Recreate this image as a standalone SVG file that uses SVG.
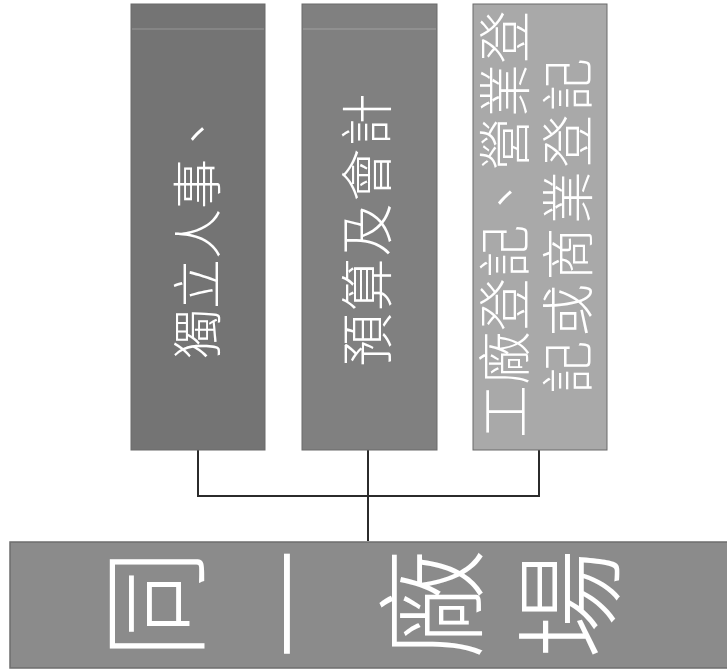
<svg xmlns="http://www.w3.org/2000/svg" width="727" height="671" viewBox="0 0 727 671">
  <style>
    .box { stroke: #6a6a6a; stroke-width: 1; }
    .lbl { fill: #ffffff; font-family: "Noto Sans CJK TC", "Noto Sans CJK SC", sans-serif; font-weight: 300; }
    .conn { fill: none; stroke: #2b2b2b; stroke-width: 2; }
    .scan { stroke: #ffffff; stroke-opacity: 0.25; stroke-width: 1; }
  </style>
  <rect width="727" height="671" fill="#ffffff"/>
  <g id="connectors">
    <path class="conn" d="M198 449 V496 H539 V449"/>
    <path class="conn" d="M368 449 V541"/>
  </g>
  <g id="node-personnel">
    <rect class="box" x="131" y="4" width="134" height="446" fill="#747474"/>
    <line class="scan" x1="132" y1="29" x2="264" y2="29"/>
    <text class="lbl" font-size="50" text-anchor="middle" transform="translate(197 234) rotate(-90)" x="0" y="19">獨立人事、</text>
  </g>
  <g id="node-budget">
    <rect class="box" x="302" y="4" width="135" height="446" fill="#808080"/>
    <line class="scan" x1="303" y1="29" x2="436" y2="29"/>
    <text class="lbl" font-size="53" letter-spacing="2" text-anchor="middle" transform="translate(367 229) rotate(-90)" x="0" y="20">預算及會計</text>
  </g>
  <g id="node-registration">
    <rect class="box" x="473" y="4" width="134" height="446" fill="#a9a9a9" stroke="#bdbdbd"/>
    <text class="lbl" font-size="53" letter-spacing="0.5" text-anchor="middle" transform="translate(505 224) rotate(-90)" x="0" y="20">工廠登記、營業登</text>
    <text class="lbl" font-size="53" letter-spacing="3.5" text-anchor="middle" transform="translate(568 224) rotate(-90)" x="0" y="20">記或商業登記</text>
  </g>
  <g id="node-same-site">
    <rect x="10" y="542" width="720" height="126" fill="#8b8b8b" stroke="#6e6e6e" stroke-width="1.5"/>
    <text class="lbl" font-size="110" x="196 330 474 611" y="659 659 659 659" rotate="-90">同一廠場</text>
  </g>
</svg>
